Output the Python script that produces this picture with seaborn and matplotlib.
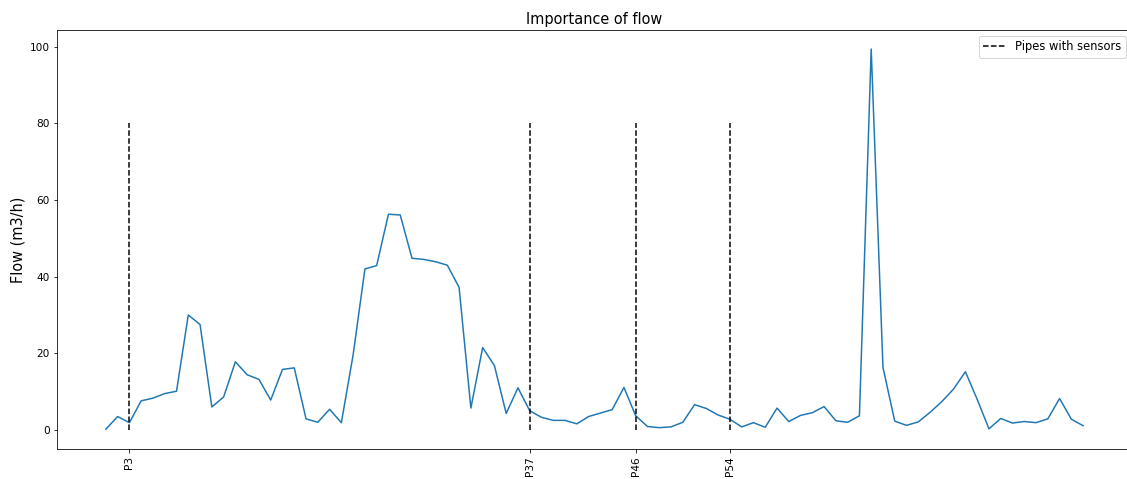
import numpy as np
import pandas as pd
import matplotlib
matplotlib.use("Agg")
import matplotlib.pyplot as plt
import seaborn as sns

# Flow per pipe, P1 .. P84
flow = [
    0.2, 3.5, 1.9, 7.6, 8.3, 9.5, 10.1, 30.0, 27.5, 6.0,
    8.6, 17.8, 14.4, 13.2, 7.8, 15.8, 16.2, 2.9, 2.0, 5.4,
    1.9, 19.6, 42.0, 42.9, 56.3, 56.1, 44.8, 44.5, 43.9, 43.0,
    37.2, 5.7, 21.5, 16.8, 4.3, 11.0, 5.0, 3.3, 2.5, 2.5,
    1.6, 3.5, 4.4, 5.3, 11.1, 3.7, 0.9, 0.6, 0.8, 2.0,
    6.6, 5.6, 3.9, 2.8, 0.8, 1.9, 0.7, 5.7, 2.2, 3.8,
    4.5, 6.1, 2.4, 2.0, 3.7, 99.4, 16.3, 2.3, 1.2, 2.1,
    4.6, 7.4, 10.7, 15.2, 8.0, 0.3, 3.0, 1.8, 2.2, 1.9,
    2.9, 8.2, 2.8, 1.1,
]
pipes = [f"P{i + 1}" for i in range(len(flow))]
sensor_pipes = ["P3", "P37", "P46", "P54"]
sensor_top = 80

df = pd.DataFrame({"pos": np.arange(len(flow)), "pipe": pipes, "flow": flow})
sensor_pos = [pipes.index(p) for p in sensor_pipes]

W, H, DPI = 1127, 479, 72
fig = plt.figure(figsize=(W / DPI, H / DPI), dpi=DPI)
ax = fig.add_axes([57 / W, (H - 449) / H, (1132 - 57) / W, (449 - 30) / H])

sns.lineplot(data=df, x="pos", y="flow", ax=ax, color="#1f77b4", linewidth=1.5)
ax.vlines(sensor_pos, 0, sensor_top, colors="k", linestyles="--",
          linewidth=1.5, label="Pipes with sensors")

ax.set_xticks(sensor_pos)
ax.set_xticklabels(sensor_pipes, rotation=90, fontsize=10.5)
ax.tick_params(axis="y", labelsize=10.5)
ax.set_xlabel("")
ax.set_ylabel("Flow (m3/h)", fontsize=14.5)
ax.set_title("Importance of flow", fontsize=14.5)
ax.legend(loc="upper right", fontsize=11.5)

fig.savefig("out.png", dpi=DPI)
